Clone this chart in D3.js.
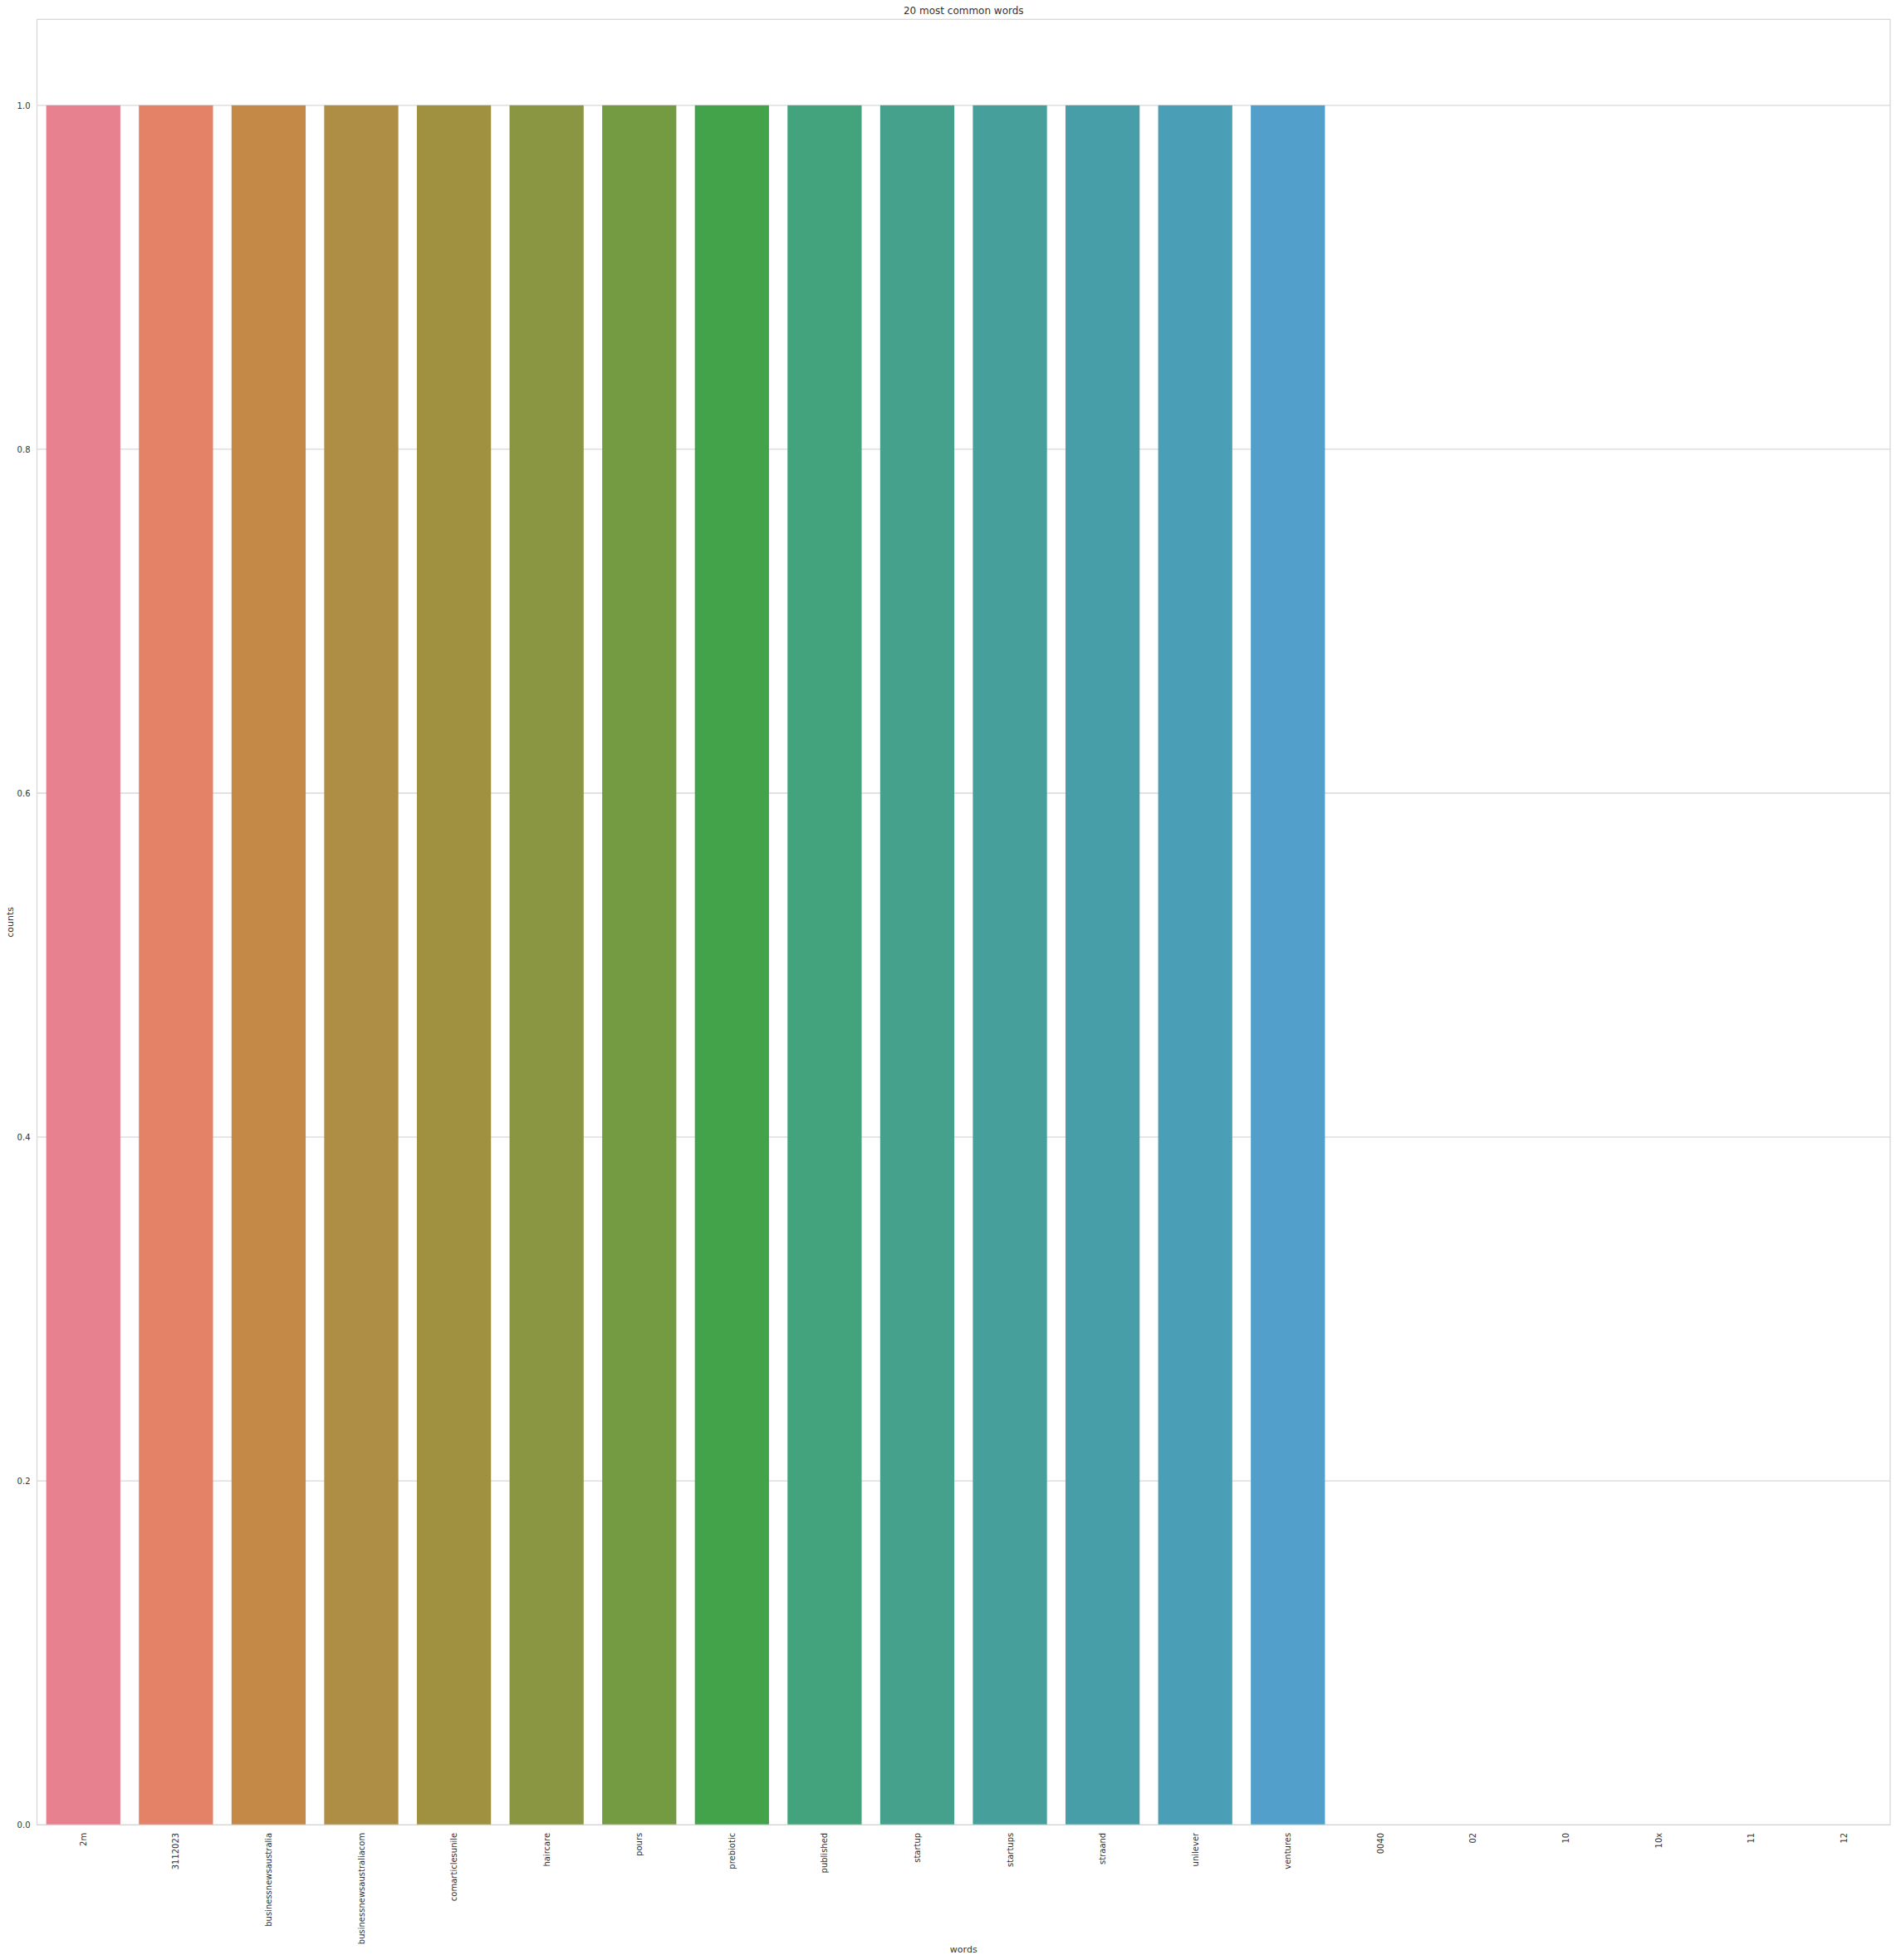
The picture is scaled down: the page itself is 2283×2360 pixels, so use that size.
<!DOCTYPE html>
<html>
<head>
<meta charset="utf-8">
<script src="https://cdn.jsdelivr.net/npm/d3@7"></script>
<style>
html, body { margin: 0; padding: 0; background: #fff; }
svg { display: block; font-family: "DejaVu Sans", sans-serif; }
</style>
</head>
<body>
<script>
const words = ["2m","3112023","businessnewsaustralia","businessnewsaustraliacom","comarticlesunile","haircare","pours","prebiotic","published","startup","startups","straand","unilever","ventures","0040","02","10","10x","11","12"];
const counts = [1,1,1,1,1,1,1,1,1,1,1,1,1,1,0,0,0,0,0,0];
const barColors = ["#e7808f","#e38266","#c48947","#ae8d45","#a09141","#8b9643","#749b41","#43a34b","#43a37c","#45a18c","#469f9b","#489ea8","#4a9fb6","#519fca","#56a0d8","#7f9de0","#a494e0","#c28ae0","#d985c8","#e582ab"];
const yTicks = [0.0,0.2,0.4,0.6,0.8,1.0];
const title = "20 most common words";

const W = 2283, H = 2360;
const m = {left: 44.5, right: 2276, top: 23.3, bottom: 2197.3};
const svg = d3.select("body").append("svg").attr("width", W).attr("height", H);

const x = d3.scaleBand().domain(words).range([m.left, m.right]).paddingInner(0.2).paddingOuter(0.1);
const y = d3.scaleLinear().domain([0, 1.05]).range([m.bottom, m.top]);

const grid = "#d8d8d8", textCol = "#333333";

// gridlines
svg.append("g").selectAll("line").data(yTicks).join("line")
  .attr("x1", m.left).attr("x2", m.right)
  .attr("y1", d => y(d)).attr("y2", d => y(d))
  .attr("stroke", grid).attr("stroke-width", 1.3);

// bars
svg.append("g").selectAll("rect").data(words).join("rect")
  .attr("x", d => x(d)).attr("width", x.bandwidth())
  .attr("y", (d, i) => y(counts[i]))
  .attr("height", (d, i) => y(0) - y(counts[i]))
  .attr("fill", (d, i) => barColors[i]);

// spines
svg.append("rect").attr("x", m.left).attr("y", m.top)
  .attr("width", m.right - m.left).attr("height", m.bottom - m.top)
  .attr("fill", "none").attr("stroke", grid).attr("stroke-width", 1.3);

// y axis
const yAxis = d3.axisLeft(y).tickValues(yTicks).tickFormat(d3.format(".1f")).tickSize(0).tickPadding(8);
const gy = svg.append("g").attr("transform", `translate(${m.left},0)`).call(yAxis);
gy.select(".domain").remove();
gy.selectAll("text").attr("fill", textCol).style("font-size", "10px").style("font-family", "DejaVu Sans");

// x axis
const xAxis = d3.axisBottom(x).tickSize(0).tickPadding(0);
const gx = svg.append("g").attr("transform", `translate(0,${m.bottom})`).call(xAxis);
gx.select(".domain").remove();
gx.selectAll("text")
  .attr("fill", textCol).style("font-size", "10px").style("font-family", "DejaVu Sans")
  .attr("text-anchor", "end").attr("dy", "0.35em").attr("y", 0)
  .attr("transform", "translate(0,9.5) rotate(-90)");

// title
svg.append("text").attr("x", (m.left + m.right) / 2).attr("y", 16.5)
  .attr("text-anchor", "middle").attr("fill", textCol)
  .style("font-size", "12px").text(title);

// axis labels
svg.append("text").attr("x", (m.left + m.right) / 2).attr("y", 2351)
  .attr("text-anchor", "middle").attr("fill", textCol)
  .style("font-size", "11px").text("words");
svg.append("text").attr("transform", `translate(15.5,${(m.top + m.bottom) / 2}) rotate(-90)`)
  .attr("text-anchor", "middle").attr("fill", textCol)
  .style("font-size", "11px").text("counts");
</script>
</body>
</html>
